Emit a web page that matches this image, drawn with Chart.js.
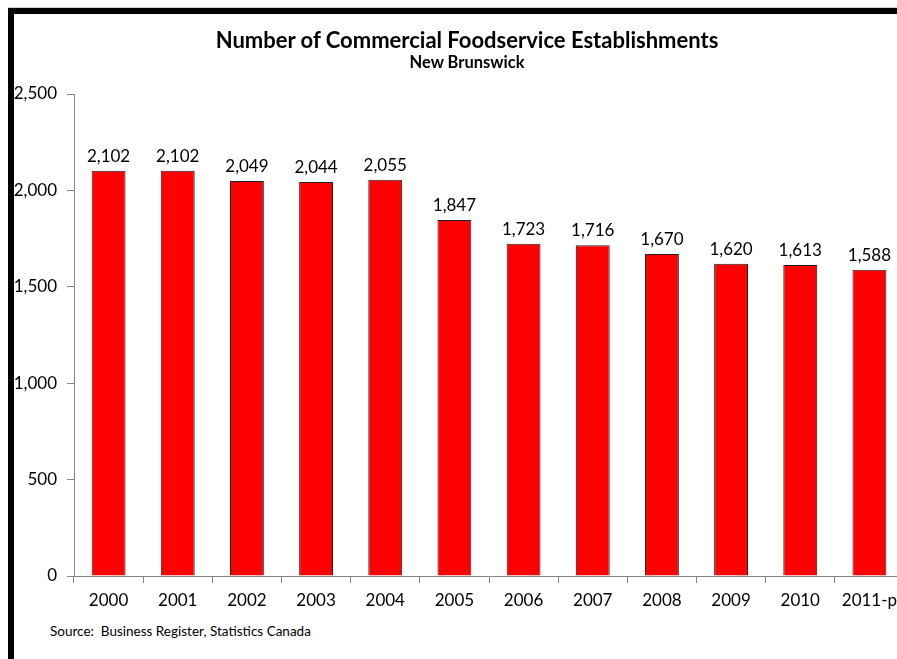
<!DOCTYPE html>
<html>
<head>
<meta charset="utf-8">
<script src="https://cdn.jsdelivr.net/npm/chart.js@4.4.0/dist/chart.umd.min.js"></script>
<style>
    html, body { margin: 0; padding: 0; background: #fff; overflow: hidden; width: 897px; height: 659px; }
    .frame {
        position: absolute; left: 8px; top: 8px; width: 1000px; height: 700px;
        border-left: 6px solid #000; border-top: 6px solid #000;
        box-shadow: 0 -1px 0 #d0d0d0;
    }
    #chart { position: absolute; left: 14px; top: 14px; }
    .title, .subtitle {
        position: absolute; left: 0; width: 934px; text-align: center;
        font-family: Lato, sans-serif; font-weight: bold; color: #000; white-space: nowrap;
    }
    .title { top: 27px; font-size: 22px; line-height: 26px; }
    .subtitle { top: 53px; font-size: 16.5px; line-height: 18px; }
    .source {
        position: absolute; left: 50px; top: 623px;
        font: 13.5px Lato, sans-serif; color: #000; white-space: nowrap;
    }
</style>
</head>
<body>
<div class="frame"></div>
<canvas id="chart" width="906" height="600"></canvas>
<div class="title">Number of Commercial Foodservice Establishments</div>
<div class="subtitle">New Brunswick</div>
<div class="source">Source:&nbsp; Business Register, Statistics Canada</div>

<script>
    // ------------------- Data -------------------
    const years = ['2000', '2001', '2002', '2003', '2004', '2005', '2006', '2007', '2008', '2009', '2010', '2011-p'];
    const establishments = [2102, 2102, 2049, 2044, 2055, 1847, 1723, 1716, 1670, 1620, 1613, 1588];
    const yTicks = [0, 500, 1000, 1500, 2000, 2500];

    const axisGray = '#868686';
    const fmt = v => v.toLocaleString('en-US');

    // value labels above each bar
    const barLabels = {
        id: 'barLabels',
        afterDatasetsDraw(chart) {
            const ctx = chart.ctx;
            const meta = chart.getDatasetMeta(0);
            ctx.save();
            ctx.font = '17px Lato, sans-serif';
            ctx.fillStyle = '#000';
            ctx.textAlign = 'center';
            ctx.textBaseline = 'alphabetic';
            meta.data.forEach((bar, i) => {
                ctx.fillText(fmt(establishments[i]), bar.x, bar.y - 9);
            });
            ctx.restore();
        }
    };

    new Chart(document.getElementById('chart'), {
        type: 'bar',
        data: {
            labels: years,
            datasets: [{
                data: establishments,
                backgroundColor: '#FF0000',
                borderColor: '#202020',
                borderWidth: 1,
                borderSkipped: 'bottom',
                categoryPercentage: 1,
                barPercentage: 0.49
            }]
        },
        options: {
            responsive: false,
            animation: false,
            devicePixelRatio: 1,
            layout: { padding: { left: 0, right: 16, top: 80, bottom: 0 } },
            plugins: {
                legend: { display: false },
                tooltip: { enabled: false }
            },
            scales: {
                x: {
                    offset: true,
                    grid: {
                        offset: true,
                        drawOnChartArea: false,
                        color: axisGray,
                        tickLength: 7
                    },
                    border: { color: axisGray },
                    ticks: {
                        color: '#000',
                        font: { family: 'Lato', size: 17 },
                        padding: 7,
                        maxRotation: 0
                    },
                    afterFit(scale) { scale.height = 38; }
                },
                y: {
                    min: 0,
                    max: 2500,
                    afterBuildTicks(scale) { scale.ticks = yTicks.map(v => ({ value: v })); },
                    grid: {
                        drawOnChartArea: false,
                        color: axisGray,
                        tickLength: 7
                    },
                    border: { color: axisGray },
                    ticks: {
                        color: '#000',
                        font: { family: 'Lato', size: 17 },
                        padding: 10,
                        callback: v => fmt(v)
                    },
                    afterFit(scale) { scale.width = 60; }
                }
            }
        },
        plugins: [barLabels]
    });
</script>
</body>
</html>
